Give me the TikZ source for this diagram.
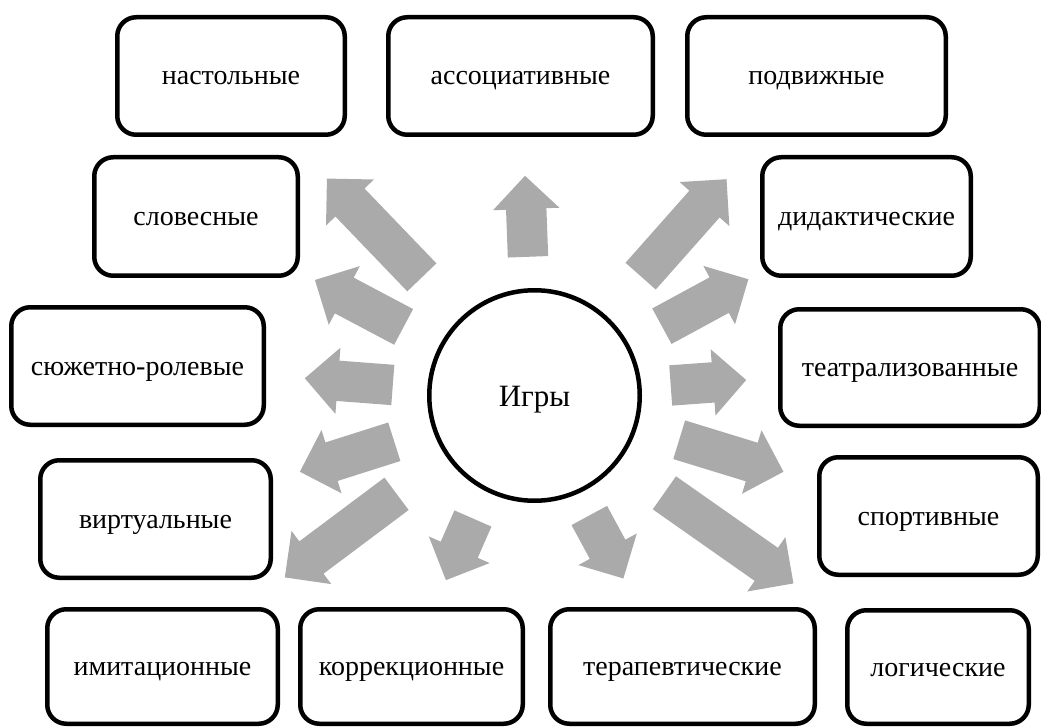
\documentclass[tikz,border=0pt]{standalone}
\usepackage{fontspec}
\setmainfont{Liberation Serif}
\usetikzlibrary{shapes.arrows,calc}
\definecolor{arrowgray}{RGB}{170,170,170}

\begin{document}
\begin{tikzpicture}[x=1pt,y=-1pt,
  kind/.style={draw,line width=4.5pt,rounded corners=19pt,inner sep=0pt,
    text height=24pt,text depth=6pt,font=\fontsize{28}{34}\selectfont},
  hub/.style={draw,circle,line width=4.5pt,inner sep=0pt,minimum size=210.5pt,
    text height=27pt,text depth=6pt,font=\fontsize{31}{36}\selectfont},
  blockarrow/.style={single arrow,fill=arrowgray,inner xsep=0pt,inner ysep=20pt,
    single arrow head extend=13pt,single arrow tip angle=90,minimum width=0pt}]
\useasboundingbox (0,0) rectangle (1041,727);
% centre
\node[hub] (games) at (534.5,395.5) {Игры};
% kinds of games
\node[kind,minimum width=227.5pt,minimum height=117.5pt] (nastol) at (231,76) {настольные};
\node[kind,minimum width=264.5pt,minimum height=117.5pt] (assoc) at (520.5,76) {ассоциативные};
\node[kind,minimum width=258.5pt,minimum height=117.5pt] (podv) at (816.5,76) {подвижные};
\node[kind,minimum width=203.5pt,minimum height=118.5pt] (slov) at (196,216.5) {словесные};
\node[kind,minimum width=208.5pt,minimum height=118.5pt] (didakt) at (866.5,216.5) {дидактические};
\node[kind,minimum width=252.5pt,minimum height=117.5pt] (syuzh) at (137.5,366) {сюжетно-ролевые};
\node[kind,minimum width=259.5pt,minimum height=116.5pt] (teatr) at (910,367.5) {театрализованные};
\node[kind,minimum width=230.5pt,minimum height=117.5pt] (virt) at (155.5,519) {виртуальные};
\node[kind,minimum width=218.5pt,minimum height=117.5pt] (sport) at (928.5,516) {спортивные};
\node[kind,minimum width=230.5pt,minimum height=114.5pt] (imit) at (162.5,666.5) {имитационные};
\node[kind,minimum width=222.5pt,minimum height=114.5pt] (korr) at (411.5,666.5) {коррекционные};
\node[kind,minimum width=264.5pt,minimum height=114.5pt] (terap) at (682.5,666.5) {терапевтические};
\node[kind,minimum width=181.5pt,minimum height=113.5pt] (logic) at (938,667) {логические};
% arrows: tail and tip
\coordinate (t1) at (528,257);     \coordinate (h1) at (525,176);
\coordinate (t2) at (422,277.5);   \coordinate (h2) at (326.7,178.3);
\coordinate (t3) at (403.8,327);   \coordinate (h3) at (315,280);
\coordinate (t4) at (393,385);     \coordinate (h4) at (305,378.3);
\coordinate (t5) at (394.5,441.7); \coordinate (h5) at (300,471.7);
\coordinate (t6) at (396.7,493.7); \coordinate (h6) at (285,577.3);
\coordinate (t7) at (473,518.3);   \coordinate (h7) at (446,580);
\coordinate (t8) at (589.2,515.3); \coordinate (h8) at (623.3,578.3);
\coordinate (t9) at (664.2,492.7); \coordinate (h9) at (793.3,583.3);
\coordinate (t10) at (679,439.7);  \coordinate (h10) at (783.3,471.7);
\coordinate (t11) at (670.5,385.5); \coordinate (h11) at (746,380);
\coordinate (t12) at (661.7,326.3); \coordinate (h12) at (748.3,279.3);
\coordinate (t13) at (640.5,276.3); \coordinate (h13) at (726.7,179);
\foreach \i in {1,...,13}
  \path let \p1=(t\i), \p2=(h\i), \n1={veclen(\x2-\x1,\y2-\y1)},
    \n2={atan2(\y2-\y1,\x2-\x1)} in
    node[blockarrow,minimum height=\n1,rotate=\n2,anchor=tail] (arr\i) at (\p1) {};
\end{tikzpicture}
\end{document}
